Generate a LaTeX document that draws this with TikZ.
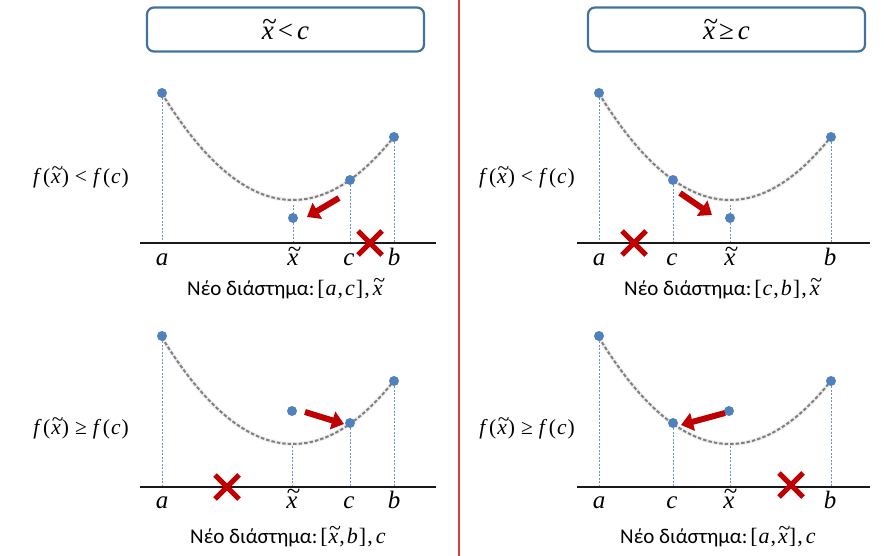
\documentclass[tikz,border=0pt]{standalone}
\usepackage{fontspec}
\usepackage{graphicx}
\setmainfont{Carlito}
\newfontfamily\tms{Liberation Serif}
\usetikzlibrary{arrows.meta,shapes.misc}
\definecolor{dotblue}{HTML}{4F81BD}
\definecolor{boxblue}{HTML}{41719C}
\definecolor{xred}{HTML}{C00000}
\definecolor{sepred}{HTML}{E03C3C}
\definecolor{curvegray}{HTML}{7F7F7F}
\newcommand{\mv}[1]{{\tms\itshape #1}}
\newcommand{\xt}{\leavevmode\hbox{\tms\rlap{\kern0.02em\raisebox{0.36em}{\char"7E}}\itshape x}}
\newcommand{\tp}[1]{{\tms #1}}
\newcommand{\gp}[1]{\hspace{#1pt}}
\newcommand{\flt}{\mv{f}\gp{4}\tp{(}\gp{1}\xt\gp{1}\tp{)}\gp{6}\tp{<}\gp{6}\mv{f}\gp{4}\tp{(}\gp{1}\mv{c}\gp{1}\tp{)}}
\newcommand{\fge}{\mv{f}\gp{4}\tp{(}\gp{1}\xt\gp{1}\tp{)}\gp{6}\tp{≥}\gp{6}\mv{f}\gp{4}\tp{(}\gp{1}\mv{c}\gp{1}\tp{)}}
\newcommand{\mathpt}[1]{{\fontsize{22}{24}\selectfont #1}}
\pgfdeclarelayer{bg}
\pgfsetlayers{bg,main}
\tikzset{
  dot/.style={circle,fill=dotblue,inner sep=0pt,minimum size=10pt},
  drop/.style={draw=dotblue!85,line width=0.8pt,dash pattern=on 2pt off 1.5pt},
  halo/.style={draw=gray!12,line width=4pt},
  curveline/.style={draw=curvegray,line width=2pt,dash pattern=on 3.5pt off 2pt},
  axisline/.style={draw=black!90,line width=1.3pt},
  redarrow/.style={draw=xred,line width=6pt,-{Triangle[width=18pt,length=12pt]}},
  xmark/.style={cross out,draw=xred,line width=5pt,minimum width=19pt,minimum height=19pt,inner sep=0pt},
  lab/.style={anchor=base,inner sep=0pt,font=\fontsize{25}{28}\selectfont},
  flab/.style={inner sep=0pt,font=\fontsize{21.5}{24}\selectfont},
  newtext/.style={anchor=base west,inner sep=0pt,font=\fontsize{21}{24}\selectfont},
  hbox/.style={draw=boxblue,line width=2.2pt,rounded corners=7pt,minimum width=277pt,minimum height=44pt,fill=white,font=\fontsize{27}{30}\selectfont},
  sepline/.style={draw=sepred,line width=1.1pt}
}
\begin{document}
\begin{tikzpicture}[x=1pt,y=-1pt]
\useasboundingbox (0,0) rectangle (884,556);

% separator
\coordinate (S1) at (459,0);
\coordinate (S2) at (459,556);
\draw[sepline] (S1) -- (S2);

% headers
\node[hbox] (H1) at (285.5,29.5) {\xt\gp{4}\tp{<}\gp{4}\mv{c}};
\node[hbox] (H2) at (726.5,29.5) {\xt\gp{4}\tp{≥}\gp{4}\mv{c}};

% side labels
\node[flab] (F1) at (81,177) {\flt};
\node[flab] (F2) at (81,428) {\fge};
\node[flab] (F3) at (527,177) {\flt};
\node[flab] (F4) at (527,428) {\fge};

% new interval texts
\node[newtext] (N1) at (187,295) {Νέο διάστημα:\gp{3}\mathpt{\tp{[}\gp{1}\mv{a}\gp{1}\tp{,}\gp{2}\mv{c}\gp{1}\tp{]}\gp{1}\tp{,}\gp{3}\xt}};
\node[newtext] (N2) at (624,295) {Νέο διάστημα:\gp{3}\mathpt{\tp{[}\gp{1}\mv{c}\gp{1}\tp{,}\gp{2}\mv{b}\gp{1}\tp{]}\gp{1}\tp{,}\gp{3}\xt}};
\node[newtext] (N3) at (190,543) {Νέο διάστημα:\gp{3}\mathpt{\tp{[}\gp{1}\xt\gp{1}\tp{,}\gp{2}\mv{b}\gp{1}\tp{]}\gp{1}\tp{,}\gp{3}\mv{c}}};
\node[newtext] (N4) at (620,543) {Νέο διάστημα:\gp{3}\mathpt{\tp{[}\gp{1}\mv{a}\gp{1}\tp{,}\gp{2}\xt\gp{1}\tp{]}\gp{1}\tp{,}\gp{3}\mv{c}}};

% ---------- Panel A (top-left) ----------
\begin{scope}
\coordinate (AL) at (140,243); \coordinate (AR) at (436,243);
\node[dot] (Aa) at (162,93) {};
\node[dot] (Ab) at (394,137) {};
\node[dot] (Ac) at (350,180) {};
\node[dot] (At) at (293,218) {};
\coordinate (Atm) at (293,205);
\coordinate (Aaf) at (162,243); \coordinate (Abf) at (394,243);
\coordinate (Acf) at (350,243); \coordinate (Atf) at (293,243);
\begin{pgfonlayer}{bg}
\draw[halo] plot[domain=162:394,samples=60,smooth] (\x,{200-0.62*((\x-293)/10)*((\x-293)/10)});
\draw[curveline] plot[domain=162:394,samples=60,smooth] (\x,{200-0.62*((\x-293)/10)*((\x-293)/10)});
\draw[drop] (Aa) -- (Aaf);
\draw[drop] (Ab) -- (Abf);
\draw[drop] (Ac) -- (Acf);
\draw[drop] (Atm) -- (At) -- (Atf);
\end{pgfonlayer}
\draw[axisline] (AL) -- (AR);
\node[lab] (Ala) at (162,266) {\mv{a}};
\node[lab] (Alt) at (293,266) {\xt};
\node[lab] (Alc) at (349,266) {\mv{c}};
\node[lab] (Alb) at (394,266) {\mv{b}};
\coordinate (Ar1) at (339,198); \coordinate (Ar2) at (307,217);
\draw[redarrow] (Ar1) -- (Ar2);
\node[xmark] (Ax) at (370,243) {};
\end{scope}

% ---------- Panel B (top-right) ----------
\begin{scope}[shift={(437,0)}]
\coordinate (BL) at (140,243); \coordinate (BR) at (433,243);
\node[dot] (Ba) at (162,93) {};
\node[dot] (Bb) at (394,137) {};
\node[dot] (Bc) at (236,180) {};
\node[dot] (Bt) at (293,218) {};
\coordinate (Btm) at (293,205);
\coordinate (Baf) at (162,243); \coordinate (Bbf) at (394,243);
\coordinate (Bcf) at (236,243); \coordinate (Btf) at (293,243);
\begin{pgfonlayer}{bg}
\draw[halo] plot[domain=162:394,samples=60,smooth] (\x,{200-0.62*((\x-293)/10)*((\x-293)/10)});
\draw[curveline] plot[domain=162:394,samples=60,smooth] (\x,{200-0.62*((\x-293)/10)*((\x-293)/10)});
\draw[drop] (Ba) -- (Baf);
\draw[drop] (Bb) -- (Bbf);
\draw[drop] (Bc) -- (Bcf);
\draw[drop] (Btm) -- (Bt) -- (Btf);
\end{pgfonlayer}
\draw[axisline] (BL) -- (BR);
\node[lab] (Bla) at (162,266) {\mv{a}};
\node[lab] (Blc) at (235,266) {\mv{c}};
\node[lab] (Blt) at (293,266) {\xt};
\node[lab] (Blb) at (393,266) {\mv{b}};
\coordinate (Br1) at (243,193); \coordinate (Br2) at (275,215);
\draw[redarrow] (Br1) -- (Br2);
\node[xmark] (Bx) at (197,243) {};
\end{scope}

% ---------- Panel C (bottom-left) ----------
\begin{scope}[shift={(0,244)}]
\coordinate (CL) at (140,243); \coordinate (CR) at (436,243);
\node[dot] (Ca) at (162,92) {};
\node[dot] (Cb) at (394,137) {};
\node[dot] (Cc) at (350,179) {};
\node[dot] (Ct) at (292,167) {};
\coordinate (Ctm) at (292,202);
\coordinate (Caf) at (162,243); \coordinate (Cbf) at (394,243);
\coordinate (Ccf) at (350,243); \coordinate (Ctf) at (292,243);
\begin{pgfonlayer}{bg}
\draw[halo] plot[domain=162:394,samples=60,smooth] (\x,{200-0.62*((\x-293)/10)*((\x-293)/10)});
\draw[curveline] plot[domain=162:394,samples=60,smooth] (\x,{200-0.62*((\x-293)/10)*((\x-293)/10)});
\draw[drop] (Ca) -- (Caf);
\draw[drop] (Cb) -- (Cbf);
\draw[drop] (Cc) -- (Ccf);
\draw[drop] (Ctm) -- (Ctf);
\end{pgfonlayer}
\draw[axisline] (CL) -- (CR);
\node[lab] (Cla) at (162,264) {\mv{a}};
\node[lab] (Clt) at (292,264) {\xt};
\node[lab] (Clc) at (349,264) {\mv{c}};
\node[lab] (Clb) at (394,264) {\mv{b}};
\coordinate (Cr1) at (305,168); \coordinate (Cr2) at (344,180);
\draw[redarrow] (Cr1) -- (Cr2);
\node[xmark] (Cx) at (227,243) {};
\end{scope}

% ---------- Panel D (bottom-right) ----------
\begin{scope}[shift={(437,244)}]
\coordinate (DL) at (140,243); \coordinate (DR) at (433,243);
\node[dot] (Da) at (162,92) {};
\node[dot] (Db) at (394,137) {};
\node[dot] (Dc) at (236,179) {};
\node[dot] (Dt) at (292,167) {};
\coordinate (Dtm) at (293,202);
\coordinate (Daf) at (162,243); \coordinate (Dbf) at (394,243);
\coordinate (Dcf) at (236,243); \coordinate (Dtf) at (293,243);
\begin{pgfonlayer}{bg}
\draw[halo] plot[domain=162:394,samples=60,smooth] (\x,{200-0.62*((\x-293)/10)*((\x-293)/10)});
\draw[curveline] plot[domain=162:394,samples=60,smooth] (\x,{200-0.62*((\x-293)/10)*((\x-293)/10)});
\draw[drop] (Da) -- (Daf);
\draw[drop] (Db) -- (Dbf);
\draw[drop] (Dc) -- (Dcf);
\draw[drop] (Dtm) -- (Dtf);
\end{pgfonlayer}
\draw[axisline] (DL) -- (DR);
\node[lab] (Dla) at (162,264) {\mv{a}};
\node[lab] (Dlc) at (235,264) {\mv{c}};
\node[lab] (Dlt) at (292,264) {\xt};
\node[lab] (Dlb) at (393,264) {\mv{b}};
\coordinate (Dr1) at (288,169); \coordinate (Dr2) at (244,181);
\draw[redarrow] (Dr1) -- (Dr2);
\node[xmark] (Dx) at (354,241) {};
\end{scope}
\end{tikzpicture}
\end{document}
